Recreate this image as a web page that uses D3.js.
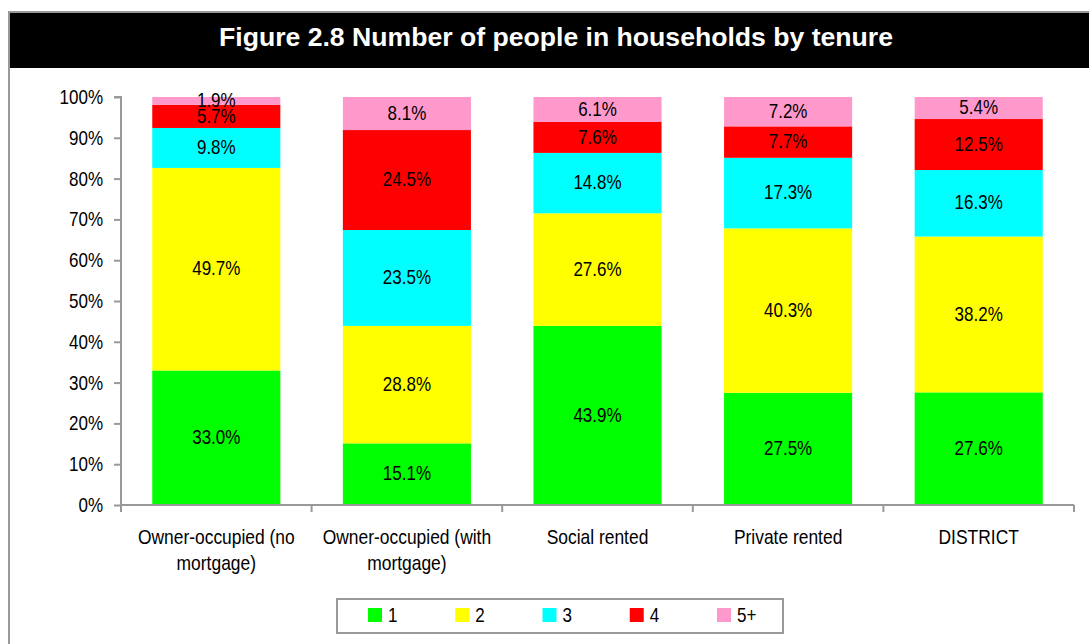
<!DOCTYPE html>
<html>
<head>
<meta charset="utf-8">
<script src="https://cdn.jsdelivr.net/npm/d3@7"></script>
<style>
  body { margin: 0; background: #fff; }
  svg { display: block; }
  text { font-family: "Liberation Sans", Arial, sans-serif; fill: #000; }
  .title { font-weight: bold; fill: #fff; }
</style>
</head>
<body>
<svg id="chart" width="1089" height="644"></svg>
<script>
// data
const tenures = ['Owner-occupied (no mortgage)', 'Owner-occupied (with mortgage)', 'Social rented', 'Private rented', 'DISTRICT'];
const sizes = ['1', '2', '3', '4', '5+'];
const size1 = [33.0, 15.1, 43.9, 27.5, 27.6];
const size2 = [49.7, 28.8, 27.6, 40.3, 38.2];
const size3 = [9.8, 23.5, 14.8, 17.3, 16.3];
const size4 = [5.7, 24.5, 7.6, 7.7, 12.5];
const size5 = [1.9, 8.1, 6.1, 7.2, 5.4];
const colours = ['#00ff00', '#ffff00', '#00ffff', '#ff0000', '#ff99cc'];

const series = [size1, size2, size3, size4, size5];
const rows = tenures.map((t, i) => {
    const r = { tenure: t };
    sizes.forEach((s, j) => { r[s] = series[j][i]; });
    return r;
});

const svg = d3.select('#chart');
const fs = 20;     // font size, squeezed sideways to look like Arial Narrow
const sx = 0.85;
const narrow = (px, py) => `translate(${px},${py}) scale(${sx},1)`;

// frame + title bar
svg.append('rect')
    .attr('x', 9).attr('y', 12).attr('width', 1100).attr('height', 660)
    .attr('fill', '#fff').attr('stroke', '#999').attr('stroke-width', 2);
svg.append('rect')
    .attr('x', 10).attr('y', 13).attr('width', 1100).attr('height', 55)
    .attr('fill', '#000');
svg.append('text')
    .attr('class', 'title')
    .attr('x', 556).attr('y', 46)
    .attr('text-anchor', 'middle')
    .attr('font-size', 25)
    .attr('textLength', 674)
    .attr('lengthAdjust', 'spacingAndGlyphs')
    .text('Figure 2.8 Number of people in households by tenure');

const plotLeft = 121, plotRight = 1074, plotTop = 97, plotBottom = 505;

const x = d3.scaleBand().domain(tenures).range([plotLeft, plotRight]).paddingInner(0.328).paddingOuter(0.164);
const y = d3.scaleLinear().domain([0, 1]).range([plotBottom, plotTop]);

const stack = d3.stack().keys(sizes).offset(d3.stackOffsetExpand);
const layers = stack(rows);

const g = svg.append('g');
layers.forEach((layer, j) => {
    g.selectAll(null)
        .data(layer)
        .enter()
        .append('rect')
        .attr('x', d => x(d.data.tenure))
        .attr('width', x.bandwidth())
        .attr('y', d => y(d[1]))
        .attr('height', d => y(d[0]) - y(d[1]))
        .attr('fill', colours[j]);
});

// segment labels
layers.forEach((layer, j) => {
    g.selectAll(null)
        .data(layer)
        .enter()
        .append('text')
        .attr('transform', d => narrow(x(d.data.tenure) + x.bandwidth() / 2, (y(d[0]) + y(d[1])) / 2 - 1))
        .attr('dy', '0.36em')
        .attr('text-anchor', 'middle')
        .attr('font-size', fs)
        .text(d => d.data[sizes[j]].toFixed(1) + '%');
});

// y axis
const yAxis = svg.append('g')
    .attr('transform', `translate(${plotLeft},0)`)
    .call(d3.axisLeft(y).ticks(10).tickFormat(d3.format('.0%')).tickSize(7));
yAxis.attr('font-family', null).attr('font-size', null);
yAxis.select('.domain').attr('stroke', '#999').attr('stroke-width', 2).attr('d', `M-7,${plotTop}H0V${plotBottom}`);
yAxis.selectAll('.tick line').attr('stroke', '#999').attr('stroke-width', 2);
yAxis.selectAll('.tick text')
    .attr('x', 0)
    .attr('transform', narrow(-18, 0))
    .attr('font-size', fs)
    .attr('fill', '#000');

// x axis line with boundary ticks
const xg = svg.append('g');
xg.append('line')
    .attr('x1', plotLeft).attr('x2', plotRight).attr('y1', plotBottom).attr('y2', plotBottom)
    .attr('stroke', '#999').attr('stroke-width', 2);
const bounds = tenures.map(t => x(t) - x.step() * x.paddingInner() / 2);
bounds.push(plotRight);
bounds[0] = plotLeft;
xg.selectAll(null)
    .data(bounds)
    .enter()
    .append('line')
    .attr('x1', d => d).attr('x2', d => d)
    .attr('y1', plotBottom).attr('y2', plotBottom + 7)
    .attr('stroke', '#999').attr('stroke-width', 2);

// category labels (wrapped)
const wrapped = {
    'Owner-occupied (no mortgage)': ['Owner-occupied (no', 'mortgage)'],
    'Owner-occupied (with mortgage)': ['Owner-occupied (with', 'mortgage)']
};
tenures.forEach(t => {
    const lines = wrapped[t] || [t];
    const txt = xg.append('text')
        .attr('transform', narrow(x(t) + x.bandwidth() / 2, 544))
        .attr('text-anchor', 'middle')
        .attr('font-size', fs + 0.5);
    lines.forEach((l, i) => {
        txt.append('tspan')
            .attr('x', 0)
            .attr('dy', i === 0 ? 0 : 26)
            .text(l);
    });
});

// legend
const lg = svg.append('g');
lg.append('rect')
    .attr('x', 337).attr('y', 599).attr('width', 446).attr('height', 34)
    .attr('fill', '#fff').attr('stroke', '#999').attr('stroke-width', 2);
const legendX = d3.scalePoint().domain(sizes).range([368, 717]);
sizes.forEach((s, j) => {
    lg.append('rect')
        .attr('x', legendX(s)).attr('y', 608)
        .attr('width', 14).attr('height', 14)
        .attr('fill', colours[j]);
    lg.append('text')
        .attr('transform', narrow(legendX(s) + 20, 615))
        .attr('dy', '0.36em')
        .attr('font-size', fs)
        .text(s);
});
</script>
</body>
</html>
